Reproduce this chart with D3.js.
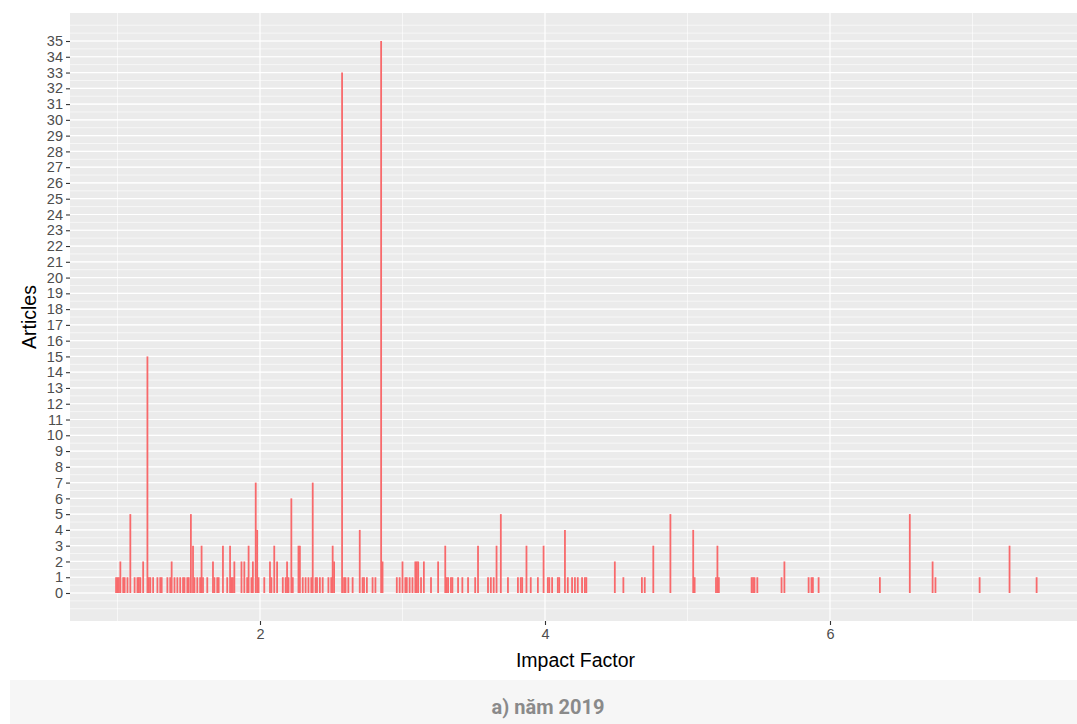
<!DOCTYPE html>
<html>
<head>
<meta charset="utf-8">
<script src="https://cdn.jsdelivr.net/npm/d3@7"></script>
<style>
  body { margin: 0; background: #fff; }
  svg text { font-family: "Liberation Sans", Arial, sans-serif; }
</style>
</head>
<body>
<div id="chart"></div>
<script>
// impact factor of each journal group and the number of articles
var impactFactor = [0.99, 1.00, 1.01, 1.02, 1.04, 1.05, 1.07, 1.09, 1.12, 1.14, 1.15, 1.16, 1.18, 1.21, 1.22, 1.23, 1.25, 1.28, 1.30, 1.31,
	1.35, 1.37, 1.38, 1.40, 1.42, 1.44, 1.46, 1.47, 1.49, 1.50, 1.515, 1.53, 1.54, 1.56, 1.58, 1.59, 1.60, 1.63, 1.67, 1.68,
	1.70, 1.71, 1.74, 1.77, 1.79, 1.80, 1.81, 1.82, 1.87, 1.89, 1.91, 1.92, 1.94, 1.95, 1.97, 1.98, 1.99, 2.03, 2.07, 2.08,
	2.10, 2.12, 2.16, 2.18, 2.19, 2.20, 2.22, 2.23, 2.27, 2.28, 2.30, 2.32, 2.34, 2.36, 2.37, 2.39, 2.40, 2.42, 2.44, 2.48,
	2.50, 2.51, 2.52, 2.576, 2.59, 2.60, 2.62, 2.65, 2.70, 2.72, 2.73, 2.75, 2.79, 2.81, 2.85, 2.86, 2.96, 2.98, 3.00, 3.02,
	3.03, 3.05, 3.07, 3.09, 3.10, 3.11, 3.13, 3.15, 3.20, 3.25, 3.30, 3.31, 3.32, 3.34, 3.35, 3.39, 3.42, 3.46, 3.51, 3.53,
	3.60, 3.62, 3.64, 3.66, 3.69, 3.74, 3.81, 3.83, 3.84, 3.87, 3.90, 3.95, 3.99, 4.02, 4.03, 4.05, 4.09, 4.10, 4.14, 4.16,
	4.19, 4.21, 4.23, 4.26, 4.28, 4.29, 4.49, 4.55, 4.68, 4.70, 4.76, 4.88, 5.04, 5.05, 5.20, 5.21, 5.22, 5.45, 5.46, 5.47,
	5.49, 5.66, 5.68, 5.85, 5.87, 5.88, 5.92, 6.35, 6.56, 6.72, 6.74, 7.05, 7.26, 7.45];
var articles = [1, 1, 1, 2, 1, 1, 1, 5, 1, 1, 1, 1, 2, 15, 1, 1, 1, 1, 1, 1,
	1, 1, 2, 1, 1, 1, 1, 1, 1, 1, 5, 3, 1, 1, 1, 3, 1, 1, 2, 1,
	1, 1, 3, 1, 3, 1, 1, 2, 2, 2, 1, 3, 1, 2, 7, 4, 1, 1, 2, 1,
	3, 2, 1, 1, 2, 1, 6, 1, 3, 3, 1, 1, 1, 1, 7, 1, 1, 1, 1, 1,
	1, 3, 2, 33, 1, 1, 1, 1, 4, 1, 1, 1, 1, 1, 35, 2, 1, 1, 2, 1,
	1, 1, 1, 2, 2, 2, 1, 2, 1, 2, 3, 1, 1, 1, 1, 1, 1, 1, 1, 3,
	1, 1, 1, 3, 5, 1, 1, 1, 1, 3, 1, 1, 3, 1, 1, 1, 1, 1, 4, 1,
	1, 1, 1, 1, 1, 1, 2, 1, 1, 1, 3, 5, 4, 1, 1, 3, 1, 1, 1, 1,
	1, 1, 2, 1, 1, 1, 1, 1, 5, 2, 1, 1, 3, 1];
var xTicks = [2, 4, 6];
var yTicks = d3.range(0, 36);
var caption = "a) năm 2019";

var width = 1077, height = 724;
var panel = {left: 70, right: 1077, top: 13, bottom: 621};

var svg = d3.select("#chart").append("svg")
	.attr("width", width)
	.attr("height", height);

var x = d3.scaleLinear().domain([2, 6]).range([260, 830]);
var y = d3.scaleLinear().domain([0, 35]).range([593, 41]);

// grey panel
svg.append("rect")
	.attr("x", panel.left).attr("y", panel.top)
	.attr("width", panel.right - panel.left)
	.attr("height", panel.bottom - panel.top)
	.attr("fill", "#ebebeb");

// minor grid
svg.append("g").selectAll("line")
	.data(d3.range(-1, 36.01, 0.5))
	.join("line")
	.attr("x1", panel.left).attr("x2", panel.right)
	.attr("y1", d => y(d)).attr("y2", d => y(d))
	.attr("stroke", "#fff").attr("stroke-width", 0.6);
svg.append("g").selectAll("line")
	.data([1, 3, 5, 7])
	.join("line")
	.attr("x1", d => x(d)).attr("x2", d => x(d))
	.attr("y1", panel.top).attr("y2", panel.bottom)
	.attr("stroke", "#fff").attr("stroke-width", 0.6);

// major grid
svg.append("g").selectAll("line")
	.data(yTicks)
	.join("line")
	.attr("x1", panel.left).attr("x2", panel.right)
	.attr("y1", d => y(d)).attr("y2", d => y(d))
	.attr("stroke", "#fff").attr("stroke-width", 1.2);
svg.append("g").selectAll("line")
	.data(xTicks)
	.join("line")
	.attr("x1", d => x(d)).attr("x2", d => x(d))
	.attr("y1", panel.top).attr("y2", panel.bottom)
	.attr("stroke", "#fff").attr("stroke-width", 1.2);

// the line ranges
svg.append("g").selectAll("line")
	.data(impactFactor)
	.join("line")
	.attr("x1", d => x(d)).attr("x2", d => x(d))
	.attr("y1", y(0))
	.attr("y2", (d, i) => y(articles[i]))
	.attr("stroke", "#f8696b")
	.attr("stroke-width", 1.8);

// axes
var yAxis = d3.axisLeft(y).tickValues(yTicks).tickFormat(d3.format("d")).tickSize(4).tickPadding(3);
var gy = svg.append("g").attr("transform", "translate(" + panel.left + ",0)").call(yAxis);
var xAxis = d3.axisBottom(x).tickValues(xTicks).tickFormat(d3.format("d")).tickSize(4).tickPadding(4);
var gx = svg.append("g").attr("transform", "translate(0," + panel.bottom + ")").call(xAxis);
[gx, gy].forEach(function(g) {
	g.select(".domain").remove();
	g.selectAll(".tick line").attr("stroke", "#333").attr("stroke-width", 1.1);
	g.selectAll(".tick text").attr("fill", "#4d4d4d").style("font-size", "14.5px");
});

svg.append("text")
	.attr("x", (panel.left + panel.right) / 2 + 2)
	.attr("y", 667)
	.attr("text-anchor", "middle")
	.style("font-size", "19.5px")
	.attr("fill", "#000")
	.text("Impact Factor");

svg.append("text")
	.attr("transform", "translate(36," + ((panel.top + panel.bottom) / 2) + ") rotate(-90)")
	.attr("text-anchor", "middle")
	.style("font-size", "19.5px")
	.attr("fill", "#000")
	.text("Articles");

// caption strip
svg.append("rect")
	.attr("x", 10).attr("y", 680)
	.attr("width", width - 10).attr("height", 44)
	.attr("fill", "#f6f6f6");
svg.append("text")
	.attr("x", 548).attr("y", 714)
	.attr("text-anchor", "middle")
	.style("font-family", "Roboto, sans-serif")
	.style("font-weight", "bold")
	.style("font-size", "20px")
	.attr("fill", "#8a8a8a")
	.text(caption);
</script>
</body>
</html>
